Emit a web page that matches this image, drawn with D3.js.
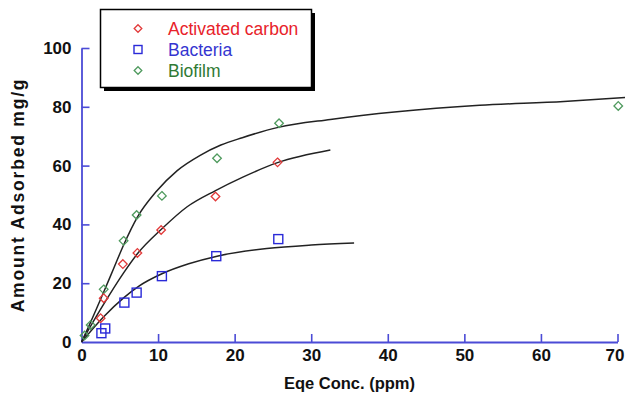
<!DOCTYPE html>
<html>
<head>
<meta charset="utf-8">
<script src="https://cdn.jsdelivr.net/npm/d3@7"></script>
<style>
  html, body { margin: 0; padding: 0; background: #fff; }
  svg { display: block; font-family: "Liberation Sans", Arial, sans-serif; }
</style>
</head>
<body>
<svg id="chart" width="625" height="397"></svg>
<script>
// =====================================================
// Data
// =====================================================
const acX  = [2.5, 2.9, 5.4, 7.3, 10.4, 17.5, 25.6];
const acY  = [8.1, 14.9, 26.5, 30.3, 38.1, 49.5, 61.1];
const bacX = [2.6, 3.1, 5.6, 7.2, 10.5, 17.6, 25.7];
const bacY = [3.0, 4.6, 13.4, 16.8, 22.4, 29.2, 35.0];
const bioX = [0.4, 1.2, 2.9, 5.5, 7.2, 10.5, 17.7, 25.8, 70.1];
const bioY = [2.2, 5.8, 17.9, 34.4, 43.2, 49.7, 62.5, 74.4, 80.3];

// fitted curves
const acFitX  = [0, 2.7, 5.5, 7.3, 10.5, 13.8, 17.5, 21, 25.6, 32.5];
const acFitY  = [0, 12, 23.5, 30, 38.5, 46, 51.5, 56, 61, 65.3];
const bacFitX = [0, 2.9, 5.5, 7.5, 10.5, 14, 17.7, 24.2, 30, 35.6];
const bacFitY = [0, 8.6, 15, 19, 23.2, 26.6, 29.2, 31.8, 33, 33.7];
const bioFitX = [0, 1.2, 2.9, 4.2, 5.5, 7.3, 9.7, 12.5, 15.5, 18.2, 21, 25.7, 32.5, 41.2, 52, 63, 71];
const bioFitY = [0, 6.8, 17, 25, 33, 42.5, 51, 58.3, 63.5, 67, 69.5, 73, 75.7, 78.3, 80.5, 81.8, 83.2];

const xTicks = [0, 10, 20, 30, 40, 50, 60, 70];
const yTicks = [0, 20, 40, 60, 80, 100];

const seriesNames = ["Activated carbon", "Bacteria", "Biofilm"];

// =====================================================
// Setup
// =====================================================
const axisColor = "#4b4bd6";
const colors = {
  ac:  { mark: "#e23a3a", text: "#e8222a" },
  bac: { mark: "#2a2ad8", text: "#3535d0" },
  bio: { mark: "#4f9a5e", text: "#2f7a34" }
};

const svg = d3.select("#chart");

const x = d3.scaleLinear().domain([0, 70]).range([81.5, 617.5]);
const y = d3.scaleLinear().domain([0, 100]).range([342, 48]);

const zip = (xs, ys) => xs.map((v, i) => ({ x: v, y: ys[i] }));

// ----------
// Axes
// =================
const xAxis = svg.append("g")
  .attr("transform", `translate(0, ${y(0)})`)
  .call(d3.axisBottom(x).tickValues(xTicks).tickSizeInner(-8).tickSizeOuter(0).tickPadding(7));
const yAxis = svg.append("g")
  .attr("transform", `translate(${x(0)}, 0)`)
  .call(d3.axisLeft(y).tickValues(yTicks).tickSizeInner(-8).tickSizeOuter(0).tickPadding(10));

[xAxis, yAxis].forEach(g => {
  g.select(".domain").attr("stroke", axisColor).attr("stroke-width", 1.8);
  g.selectAll(".tick line").attr("stroke", axisColor).attr("stroke-width", 1.6);
  g.selectAll(".tick text")
    .attr("fill", "#111")
    .style("font-size", "17px")
    .style("font-weight", "bold")
    .style("font-family", "'Liberation Sans', Arial, sans-serif");
});
yAxis.selectAll(".tick").filter(d => d === 0).select("line").remove();
xAxis.selectAll(".tick").filter(d => d === 0).select("line").remove();
// last label sits right at the page edge, nudge it in
xAxis.selectAll(".tick").filter(d => d === 70).select("text").attr("dx", -3);

// axis titles
svg.append("text")
  .attr("x", (x(0) + x(70)) / 2)
  .attr("y", 389)
  .attr("text-anchor", "middle")
  .style("font-size", "16.5px")
  .style("font-weight", "bold")
  .attr("fill", "#111")
  .text("Eqe Conc. (ppm)");

svg.append("text")
  .attr("transform", `translate(24, ${(y(0) + y(100)) / 2}) rotate(-90)`)
  .attr("text-anchor", "middle")
  .style("font-size", "17.5px")
  .style("font-weight", "bold")
  .style("letter-spacing", "1.8px")
  .attr("fill", "#111")
  .text("Amount Adsorbed mg/g");

// ----------
// Fitted curves
// =================
const line = d3.line()
  .x(d => x(d.x))
  .y(d => y(d.y))
  .curve(d3.curveMonotoneX);

[[bioFitX, bioFitY], [acFitX, acFitY], [bacFitX, bacFitY]].forEach(([xs, ys]) => {
  svg.append("path")
    .datum(zip(xs, ys))
    .attr("fill", "none")
    .attr("stroke", "#222")
    .attr("stroke-width", 1.5)
    .attr("d", line);
});

// ----------
// Markers
// =================
const diamond = (cx, cy, r) =>
  `M${cx},${cy - r}L${cx + r},${cy}L${cx},${cy + r}L${cx - r},${cy}Z`;

function drawDiamonds(data, color) {
  svg.append("g").selectAll("path")
    .data(data)
    .enter()
    .append("path")
    .attr("d", d => diamond(x(d.x), y(d.y), 4.3))
    .attr("fill", "none")
    .attr("stroke", color)
    .attr("stroke-width", 1.3);
}

drawDiamonds(zip(bioX, bioY), colors.bio.mark);
drawDiamonds(zip(acX, acY), colors.ac.mark);

svg.append("g").selectAll("rect")
  .data(zip(bacX, bacY))
  .enter()
  .append("rect")
  .attr("x", d => x(d.x) - 4.5)
  .attr("y", d => y(d.y) - 4.5)
  .attr("width", 9)
  .attr("height", 9)
  .attr("fill", "none")
  .attr("stroke", colors.bac.mark)
  .attr("stroke-width", 1.4);

// ----------
// Legend
// =================
const legend = svg.append("g");
legend.append("rect")
  .attr("x", 104).attr("y", 13)
  .attr("width", 211).attr("height", 78)
  .attr("fill", "#000");
legend.append("rect")
  .attr("x", 100.5).attr("y", 9.5)
  .attr("width", 211).attr("height", 78)
  .attr("fill", "#fff")
  .attr("stroke", "#000")
  .attr("stroke-width", 1.5);

const rows = [
  { name: seriesNames[0], c: colors.ac,  shape: "diamond", y: 28.5 },
  { name: seriesNames[1], c: colors.bac, shape: "square",  y: 49.5 },
  { name: seriesNames[2], c: colors.bio, shape: "diamond", y: 70.5 }
];

rows.forEach(r => {
  if (r.shape === "diamond") {
    legend.append("path")
      .attr("d", diamond(138, r.y, 3.8))
      .attr("fill", "none")
      .attr("stroke", r.c.mark)
      .attr("stroke-width", 1.3);
  } else {
    legend.append("rect")
      .attr("x", 134).attr("y", r.y - 4)
      .attr("width", 8).attr("height", 8)
      .attr("fill", "none")
      .attr("stroke", r.c.mark)
      .attr("stroke-width", 1.4);
  }
  legend.append("text")
    .attr("x", 168)
    .attr("y", r.y)
    .attr("dominant-baseline", "central")
    .style("font-size", "17.5px")
    .attr("fill", r.c.text)
    .text(r.name);
});
</script>
</body>
</html>
